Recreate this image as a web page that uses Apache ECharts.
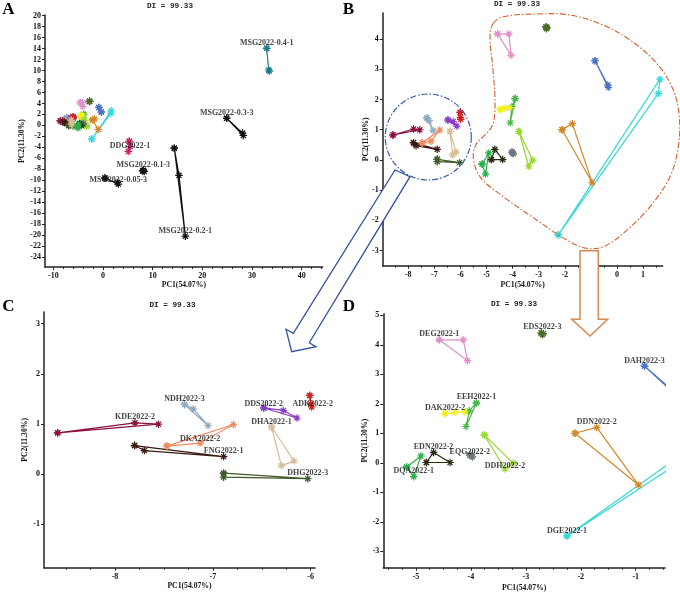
<!DOCTYPE html>
<html>
<head>
<meta charset="utf-8">
<script src="https://cdn.jsdelivr.net/npm/echarts@6/dist/echarts.min.js"></script>
<style>html,body{margin:0;padding:0;background:#fff}#c{width:680px;height:594px}</style>
</head>
<body>
<div id="c"></div>
<script>
// ---- data ----
const groupNames = ['KDE2022-2','NDH2022-3','DKA2022-2','FNG2022-1','DHG2022-3','DDS2022-2','ADK2022-2','DHA2022-1',
  'DEG2022-1','EDS2022-3','DAH2022-3','EEH2022-1','DAK2022-2','DDN2022-2','DGE2022-1','DDH2022-2','EQG2022-2','EDN2022-2','DQA2022-1',
  'DDG2022-1','MSG2022-0.4-1','MSG2022-0.3-3','MSG2022-0.2-1','MSG2022-0.1-3','MSG2022-0.05-3'];
const groupColors = ['#8B1040','#8FAAC0','#F08A60','#3A1A10','#405A28','#8A3CC8','#D02020','#D8BC94',
  '#E090C8','#4A6A2A','#4A72C4','#48B848','#F0F020','#D08828','#38D8D8','#98D832','#6A7878','#2A2A10','#28B048',
  '#C82060','#1A7A8A','#111111','#111111','#111111','#111111'];
const groupX = [
  [-8.586,-7.796,-7.557],[-7.29,-7.20,-7.05],[-7.47,-6.79,-7.13],[-7.80,-7.70,-6.89],[-6.89,-6.89,-6.03],
  [-6.48,-6.28,-6.14],[-6.01,-6.00,-5.99],[-6.40,-6.30,-6.17],
  [-4.575,-4.14,-4.06],[-2.72,-2.70,-2.68],[-0.84,-0.35,-0.33],[-3.90,-4.09,-4.03],[-4.47,-4.29,-4.11],
  [-2.105,-1.71,-0.95],[-2.25,1.65,1.59],[-3.755,-3.38,-3.23],[-4.02,-3.97,-3.99],[-4.81,-4.68,-4.38],[-5.17,-5.04,-4.91],
  [5.3,5.44,5.1],[32.95,33.36,33.5],[24.9,28.1,28.26],[14.36,15.3,16.58],[8.12,8.3,7.95],[0.4,3.09,2.9]
];
const groupY = [
  [0.824,1.023,0.997],[1.39,1.30,0.97],[0.56,0.99,0.62],[0.57,0.47,0.35],[0.02,-0.06,-0.09],
  [1.32,1.27,1.12],[1.57,1.40,1.34],[0.94,0.17,0.26],
  [4.17,4.17,3.46],[4.40,4.34,4.38],[3.28,2.48,2.40],[2.03,1.23,1.76],[1.67,1.71,1.73],
  [1.00,1.20,-0.75],[-2.48,2.67,2.20],[0.94,-0.21,-0.01],[0.26,0.20,0.23],[0.01,0.35,0.01],[-0.14,-0.47,0.23],
  [-2.9,-3.85,-4.75],[14.05,10.1,9.9],[1.3,-1.4,-1.84],[-4.16,-9.1,-20.2],[-8.2,-8.4,-8.3],[-9.6,-10.7,-10.4]
];
const aXTicks = [-10,0,10,20,30,40];
const aYTicks = [-24,-22,-20,-18,-16,-14,-12,-10,-8,-6,-4,-2,0,2,4,6,8,10,12,14,16,18,20];
const bXTicks = [-8,-7,-6,-5,-4,-3,-2,-1,0,1];
const bYTicks = [-3,-2,-1,0,1,2,3,4];
const cXTicks = [-8,-7,-6];
const cYTicks = [-1,0,1,2,3];
const dXTicks = [-5,-4,-3,-2,-1];
const dYTicks = [-3,-2,-1,0,1,2,3,4,5];
const titleText = 'DI = 99.33';
const xName = 'PC1(54.07%)';
const yName = 'PC2(11.30%)';
const panelLetters = ['A','B','C','D'];

// label anchors per panel: [group name, point index]
const labelsA = [['MSG2022-0.4-1',0],['MSG2022-0.3-3',0],['MSG2022-0.2-1',2],['MSG2022-0.1-3',0],['MSG2022-0.05-3',1],['DDG2022-1',1]];
const labelsB = [];
const labelsC = [['NDH2022-3',0],['KDE2022-2',1],['DKA2022-2',2],['FNG2022-1',2],['DDS2022-2',0],['ADK2022-2',1],['DHA2022-1',0],['DHG2022-3',2]];
const labelsD = [['DEG2022-1',0],['EDS2022-3',1],['DAH2022-3',0],['EEH2022-1',0],['DAK2022-2',0],['DDN2022-2',1],['EDN2022-2',1],['EQG2022-2',0],['DDH2022-2',1],['DQA2022-1',1],['DGE2022-1',0]];

// ---- layout / style ----
const labelShift = {'MSG2022-0.05-3':[0,1],'DDG2022-1':[0,5],'DKA2022-2':[0,1.5],'DDS2022-2':[0,1],'ADK2022-2':[2,5],'EDS2022-3':[0,-2],'EQG2022-2':[0,2],'DDH2022-2':[0,2]};
const SERIF = '"Liberation Serif","Times New Roman",serif';
const panels = [
  {grid:{left:45, top:15, width:277.7, height:252}, x:[-11.67,44.23], y:[-25.82,20.13], xt:aXTicks, yt:aYTicks, minorStep:2, gx:14.5, gy:13, labels:labelsA, pad:0},
  {grid:{left:382.7, top:13, width:280, height:252.7}, x:[-8.98,1.755], y:[-3.5,4.86], xt:bXTicks, yt:bYTicks, minorStep:0.5, gx:15, gy:12.5, labels:labelsB, pad:0, labelsOnTop:true},
  {grid:{left:44, top:312, width:271, height:255.7}, x:[-8.726,-5.956], y:[-1.865,3.233], xt:cXTicks, yt:cYTicks, minorStep:0.25, gx:12.5, gy:14, labels:labelsC, pad:20},
  {grid:{left:383.3, top:313.7, width:281.7, height:254}, x:[-5.595,-0.467], y:[-3.556,5.054], xt:dXTicks, yt:dYTicks, minorStep:0.25, gx:16.5, gy:12.5, labels:labelsD, pad:0}
];
function minorVals(min,max,step,majors){
  const out=[]; const s=Math.ceil(min/step-1e-9);
  for(let k=s; k*step<=max+1e-9; k++){ const v=+(k*step).toFixed(6); if(!majors.some(m=>Math.abs(m-v)<1e-6)) out.push(v); }
  return out;
}
const axisCol = '#222';
const tickFont = {fontFamily:SERIF, fontWeight:'bold', fontSize:8, color:'#111'};
const star = 'path://M5,0L5,10M0,5L10,5M1.6,1.6L8.4,8.4M1.6,8.4L8.4,1.6';

const grids=[], xAxes=[], yAxes=[], extraY=[], series=[];
panels.forEach((p,i)=>{
  grids.push(p.grid);
  xAxes.push({type:'value', gridIndex:i, min:p.x[0], max:p.x[1], position:'bottom',
    name:xName, nameLocation:'middle', nameGap:p.gx,
    nameTextStyle:{fontFamily:SERIF, fontWeight:'bold', fontSize:7.7, color:'#111', padding:[0,0,0,p.pad]},
    axisLine:{show:true, onZero:false, lineStyle:{color:axisCol, width:1.5}},
    axisTick:{show:true, length:3, customValues:p.xt, lineStyle:{color:axisCol, width:1}},
    axisLabel:{customValues:p.xt, margin:5, ...tickFont},
    splitLine:{show:false}});
  xAxes.push({type:'value', gridIndex:i, min:p.x[0], max:p.x[1], position:'bottom',
    axisLine:{show:false, onZero:false},
    axisTick:{show:true, length:2, customValues:minorVals(p.x[0],p.x[1],p.minorStep,p.xt), lineStyle:{color:axisCol, width:1}},
    axisLabel:{show:false}, splitLine:{show:false}});
  yAxes.push({type:'value', gridIndex:i, min:p.y[0], max:p.y[1], position:'left',
    name:yName, nameLocation:'middle', nameGap:p.gy, nameRotate:90,
    nameTextStyle:{fontFamily:SERIF, fontWeight:'bold', fontSize:7.7, color:'#111'},
    axisLine:{show:true, onZero:false, lineStyle:{color:axisCol, width:1.5}},
    axisTick:{show:true, length:3, customValues:p.yt, lineStyle:{color:axisCol, width:1}},
    axisLabel:{show:!p.labelsOnTop, customValues:p.yt, margin:4, ...tickFont},
    splitLine:{show:false}});
  if(p.labelsOnTop){
    extraY.push({type:'value', gridIndex:i, min:p.y[0], max:p.y[1], position:'left', z:80,
      axisLine:{show:false, onZero:false}, axisTick:{show:false},
      axisLabel:{customValues:p.yt, margin:4, ...tickFont}, splitLine:{show:false}});
  }
  groupNames.forEach((g,gi)=>{
    const c = groupColors[gi];
    const pts = [0,1,2,0].map(k=>[groupX[gi][k], groupY[gi][k]]);
    series.push({type:'line', name:g, xAxisIndex:2*i, yAxisIndex:i, data:pts, clip:true,
      symbol:star, symbolSize:7.5, showSymbol:true, silent:true,
      lineStyle:{color:c, width:1.2},
      itemStyle:{color:c, borderColor:c, borderWidth:1.2},
      emphasis:{disabled:true}, z:3});
  });
  if(p.labels.length){
    series.push({type:'scatter', xAxisIndex:2*i, yAxisIndex:i, symbolSize:1, silent:true, z:10, clip:false,
      itemStyle:{color:'rgba(0,0,0,0)'},
      data:p.labels.map(([n,k])=>{ const gi=groupNames.indexOf(n); const sh=labelShift[n]||[0,0];
        return {name:n, value:[groupX[gi][k], groupY[gi][k]], label:{offset:sh}}; }),
      label:{show:true, position:'top', distance:1, formatter:'{b}', fontFamily:SERIF, fontWeight:'bold', fontSize:8, color:'#111'}});
  }
});

// ---- annotations ----
const titlePos = [[170,6],[517,4.5],[172.5,305.3],[514,304.3]];
const letterPos = [[8.5,9.5],[348.5,9.5],[8.5,306.5],[349,307]];
const graphic = [];
titlePos.forEach(([x,y])=>graphic.push({type:'text', z:50, style:{text:titleText, x, y, align:'center', verticalAlign:'middle', textAlign:'center', textVerticalAlign:'middle', fontFamily:'"Liberation Mono","DejaVu Sans Mono",monospace', fontWeight:'bold', fontSize:7.7, fill:'#222'}}));
letterPos.forEach(([x,y],i)=>graphic.push({type:'text', z:50, style:{text:panelLetters[i], x, y, align:'center', verticalAlign:'middle', textAlign:'center', textVerticalAlign:'middle', fontFamily:SERIF, fontWeight:'bold', fontSize:17, fill:'#000'}}));
const dashDot = [6,2,1.5,2];
graphic.push({type:'circle', z:40, shape:{cx:428.3, cy:137, r:43}, style:{fill:null, stroke:'#3A5BA8', lineWidth:1.2, lineDash:dashDot}});
graphic.push({type:'polygon', z:40, shape:{smooth:0.35, points:[[493.3,23.3],[503.3,16.7],[536.7,14],[570,15],[603,25],[630,40],[656.7,63.3],[673.3,90],[679.3,116.7],[678.3,146.7],[670,176.7],[650,206.7],[623.3,233.3],[603.3,246.7],[586.7,248.3],[566.7,240],[536.7,220],[503.3,196.7],[480,176.7],[473.3,156.7],[476.7,143.3],[486.7,133.3],[493.3,123.3],[495,100],[492.7,66.7],[490,36.7]]}, style:{fill:null, stroke:'#D0602A', lineWidth:1.1, lineDash:dashDot}});
graphic.push({type:'polygon', z:60, shape:{points:[[395,170],[410,176.7],[309.3,342.7],[316,346.7],[291.7,351.7],[286,329.3],[293.3,333.3]]}, style:{fill:'#fff', stroke:'#3550A0', lineWidth:1.3}});
graphic.push({type:'polygon', z:60, shape:{points:[[580,250.7],[598.3,250.7],[598.3,319.3],[607.7,319.3],[590,336],[571.7,319.3],[580,319.3]]}, style:{fill:'#fff', stroke:'#D88850', lineWidth:1.5}});

const chart = echarts.init(document.getElementById('c'), null, {renderer:'canvas'});
chart.setOption({animation:false, backgroundColor:'#fff', grid:grids, xAxis:xAxes, yAxis:yAxes.concat(extraY), series, graphic});
</script>
</body>
</html>
